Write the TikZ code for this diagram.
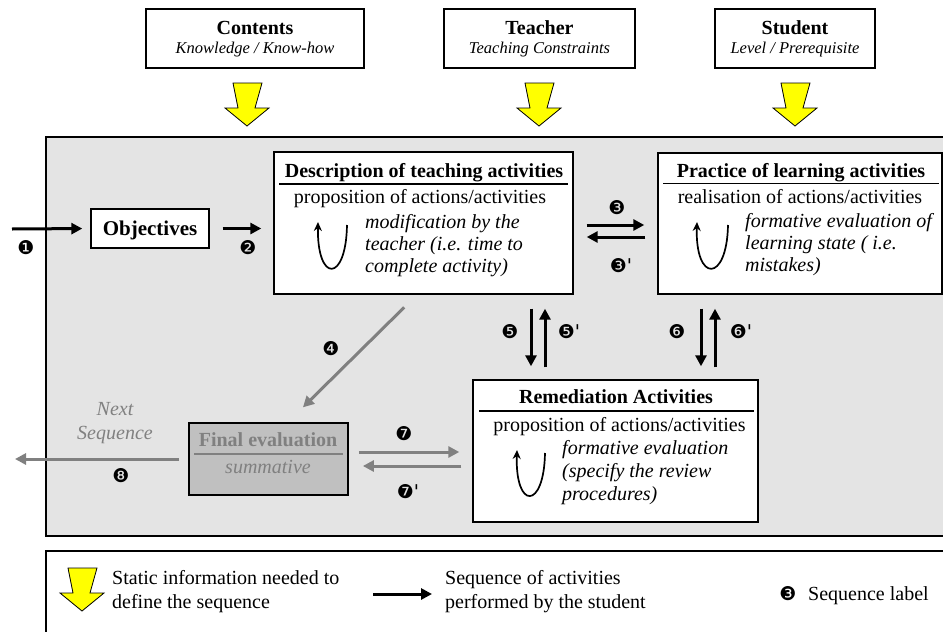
\documentclass[tikz,border=0pt]{standalone}
\usepackage{fontspec}
\setmainfont{Liberation Serif}
\newfontfamily\dingf{DejaVu Sans}
\usetikzlibrary{arrows.meta}
\definecolor{panelgrey}{HTML}{E4E4E4}
\definecolor{finalfill}{HTML}{C0C0C0}
\definecolor{greyink}{HTML}{808080}
\definecolor{arrowyellow}{HTML}{FFFF00}
\begin{document}
\begin{tikzpicture}[x=1pt,y=-1pt,
  box/.style={draw=black, line width=1.4pt, fill=white, inner sep=0},
  topbox/.style={draw=black, line width=1.4pt, fill=white, inner sep=0, minimum height=59pt},
  ttl/.style={font=\bfseries\fontsize{20}{22}\selectfont, inner sep=0, anchor=base},
  body/.style={font=\fontsize{20}{22}\selectfont, inner sep=0, anchor=base},
  itl/.style={font=\itshape\fontsize{20}{22}\selectfont, inner sep=0, anchor=base west},
  subit/.style={font=\itshape\fontsize{16.5}{18}\selectfont, inner sep=0, anchor=base},
  num/.style={font=\dingf\fontsize{19}{20}\selectfont, inner sep=0},
  blk/.style={draw=black, line width=3pt, -{Triangle[length=11pt,width=11pt]}},
  gry/.style={draw=greyink, line width=3pt, -{Triangle[length=11pt,width=11pt]}},
  rule/.style={line width=1.6pt},
  loop/.style={line width=1.7pt, -{Stealth[length=9pt,width=8pt]}},
  yarrow/.pic={\filldraw[fill=arrowyellow, draw=black, line width=0.8pt]
     (-14,0) -- (15,0) -- (8,25) -- (22,25) -- (0,43) -- (-22,25) -- (-9,25) -- cycle;}
]
\useasboundingbox (0,0) rectangle (943,632);
\clip (0,0) rectangle (943,632);

% ---------- top boxes ----------
\node[topbox, minimum width=218pt] (contents) at (255,38.5) {};
\node[ttl] (contentsT) at (255,34) {Contents};
\node[subit] (contentsS) at (255,53) {Knowledge / Know-how};
\node[topbox, minimum width=191pt] (teacher) at (539.5,38.5) {};
\node[ttl] (teacherT) at (539.5,34) {Teacher};
\node[subit] (teacherS) at (539.5,53) {Teaching Constraints};
\node[topbox, minimum width=160pt] (student) at (795,38.5) {};
\node[ttl] (studentT) at (795,34) {Student};
\node[subit] (studentS) at (795,53) {Level / Prerequisite};

\pic at (247,83) {yarrow};
\pic at (539,83) {yarrow};
\pic at (795,83) {yarrow};

% ---------- main panel ----------
\draw[fill=panelgrey, line width=2pt] (46,137) rectangle (980,536);

% Objectives
\node[box, minimum width=118pt, minimum height=39pt] (obj) at (150,228.5) {};
\node[ttl, font=\bfseries\fontsize{21}{22}\selectfont] (objT) at (150,235) {Objectives};

% Description
\node[box, minimum width=299pt, minimum height=142pt] (desc) at (423.5,223) {};
\node[ttl] (descT) at (424,177) {Description of teaching activities};
\draw[rule] (279,184) -- (568,184);
\node[body] (descP) at (420,203) {proposition of actions/activities};
\node[itl] (descI1) at (365,228) {modification by the};
\node[itl] (descI2) at (365,250) {teacher (i.e. time to};
\node[itl] (descI3) at (365,272) {complete activity)};
\draw[loop] (347,225) .. controls (346,283) and (317,283) .. (318,222);

% Practice
\node[box, minimum width=284pt, minimum height=141pt] (prac) at (800,223.5) {};
\node[ttl] (pracT) at (801,177) {Practice of learning activities};
\draw[rule] (663,183.5) -- (939,183.5);
\node[body] (pracP) at (800,203) {realisation of actions/activities};
\node[itl] (pracI1) at (745,227) {formative evaluation of};
\node[itl] (pracI2) at (745,249) {learning state ( i.e.};
\node[itl] (pracI3) at (745,271) {mistakes)};
\draw[loop] (728,225) .. controls (727,283) and (695,283) .. (697,222);

% Remediation
\node[box, minimum width=285pt, minimum height=142pt] (rem) at (615.5,451) {};
\node[ttl] (remT) at (616,403) {Remediation Activities};
\draw[rule] (479,411) -- (754,411);
\node[body] (remP) at (619.5,431) {proposition of actions/activities};
\node[itl] (remI1) at (562,454) {formative evaluation};
\node[itl] (remI2) at (562,477) {(specify the review};
\node[itl] (remI3) at (562,500) {procedures)};
\draw[loop] (545,453) .. controls (544,510) and (515,510) .. (517,450);

% Final evaluation
\node[box, fill=finalfill, line width=1.8pt, minimum width=159pt, minimum height=72pt] (fin) at (268.5,459) {};
\node[ttl, text=greyink] (finT) at (268,446) {Final evaluation};
\draw[rule, draw=greyink, line width=2pt] (194,454) -- (343,454);
\node[body, font=\itshape\fontsize{20}{22}\selectfont, text=greyink] (finS) at (268,473) {summative};

% Next sequence
\node[body, font=\itshape\fontsize{20}{22}\selectfont, text=greyink] (next1) at (115,415) {Next};
\node[body, font=\itshape\fontsize{20}{22}\selectfont, text=greyink] (next2) at (115,439) {Sequence};

% ---------- connectors ----------
\coordinate (start1) at (12,229);
\draw[blk, shorten >=8pt] (start1) -- (obj.west);
\node[num] (n1) at (26,248) {❶};

\draw[blk, shorten <=13pt, shorten >=12pt] (obj.east) -- (desc.west |- obj.east);
\node[num] (n2) at (248,248) {❷};

\draw[blk, shorten <=13pt, shorten >=13pt] ([yshift=-2pt]desc.east) -- ([yshift=-2pt]desc.east -| prac.west);
\draw[blk, shorten <=12pt, shorten >=13pt] ([yshift=-14pt]desc.east -| prac.west) -- ([yshift=-14pt]desc.east);
\node[num] (n3) at (617,208) {❸};
\node[num] (n3p) at (621,266) {❸'};

\coordinate (x5d) at (531,0);
\coordinate (x5u) at (545,0);
\draw[blk, shorten <=14pt, shorten >=13pt] (desc.south -| x5d) -- (rem.north -| x5d);
\draw[blk, shorten <=12pt, shorten >=14pt] (rem.north -| x5u) -- (desc.south -| x5u);
\node[num] (n5) at (510,332) {❺};
\node[num] (n5p) at (569,332) {❺'};

\coordinate (x6d) at (701,0);
\coordinate (x6u) at (715,0);
\draw[blk, shorten <=14pt, shorten >=13pt] (prac.south -| x6d) -- (rem.north -| x6d);
\draw[blk, shorten <=12pt, shorten >=14pt] (rem.north -| x6u) -- (prac.south -| x6u);
\node[num] (n6) at (677,332) {❻};
\node[num] (n6p) at (741,332) {❻'};

\coordinate (x4s) at (417,0);
\coordinate (x4e) at (288,0);
\draw[gry, shorten <=18pt, shorten >=21pt] (desc.south -| x4s) -- (fin.north -| x4e);
\node[num] (n4) at (331,349) {❹};

\draw[gry, shorten <=10pt, shorten >=13pt] ([yshift=7pt]fin.east) -- ([yshift=7pt]fin.east -| rem.west);
\draw[gry, shorten <=11pt, shorten >=14pt] ([yshift=-7pt]fin.east -| rem.west) -- ([yshift=-7pt]fin.east);
\node[num] (n7) at (404,434) {❼};
\node[num] (n7p) at (408,492) {❼'};

\coordinate (end8) at (15,459);
\draw[gry, shorten <=9pt] (fin.west) -- (end8);
\node[num] (n8) at (121,476) {❽};

% ---------- legend ----------
\draw[line width=2pt] (46,551) rectangle (980,660);
\pic at (82,568) {yarrow};
\node[body, anchor=base west] (lg1a) at (112,584) {Static information needed to};
\node[body, anchor=base west] (lg1b) at (112,608) {define the sequence};
\coordinate (lgs) at (373,594);
\coordinate (lge) at (432,594);
\draw[blk] (lgs) -- (lge);
\node[body, anchor=base west] (lg2a) at (445,584) {Sequence of activities};
\node[body, anchor=base west] (lg2b) at (445,608) {performed by the student};
\node[num] (lg3n) at (788,594) {❸};
\node[body, anchor=base west] (lg3) at (808,600) {Sequence label};
\end{tikzpicture}
\end{document}
